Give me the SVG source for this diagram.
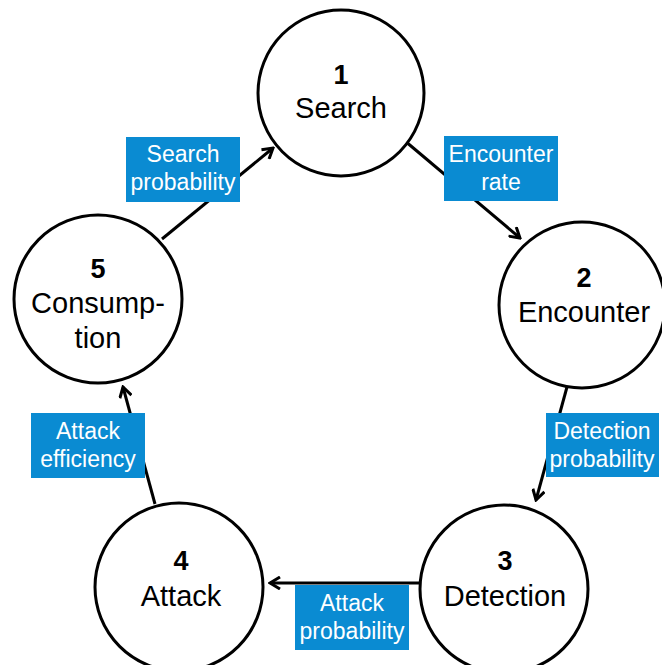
<svg xmlns="http://www.w3.org/2000/svg" width="662" height="665" viewBox="0 0 662 665">
<style>
.node circle{fill:#fff;stroke:#000;stroke-width:3}
.num{font-family:"Liberation Sans",Arial,sans-serif;font-size:27px;font-weight:bold;text-anchor:middle;fill:#000}
.nt{font-family:"Liberation Sans",Arial,sans-serif;font-size:29px;text-anchor:middle;fill:#000}
.edge line{stroke:#000;stroke-width:3;marker-end:url(#ah)}
.lbl rect{fill:#0a8bd2}
.lbl text{font-family:"Liberation Sans",Arial,sans-serif;font-size:23px;text-anchor:middle;fill:#fff}
</style>
<defs>
<marker id="ah" viewBox="0 0 14 14" refX="12" refY="7" markerWidth="14" markerHeight="14" markerUnits="userSpaceOnUse" orient="auto">
<path d="M2,1 L12,7 L2,13" fill="none" stroke="#000" stroke-width="3"/>
</marker>
</defs>
<rect width="662" height="665" fill="#fff"/>
<g id="connectors">
<g class="edge">
<line x1="405" y1="141" x2="520" y2="238"/>
<line x1="567" y1="387" x2="536" y2="500"/>
<line x1="421" y1="583" x2="270" y2="583"/>
<line x1="155" y1="504" x2="123" y2="387"/>
<line x1="162" y1="239" x2="273" y2="148"/>
</g>
</g>
<g id="n1" class="node"><circle cx="341" cy="93" r="83"/><text class="num" x="341" y="84">1</text><text class="nt" x="341" y="118">Search</text></g>
<g id="n2" class="node"><circle cx="582" cy="305" r="83"/><text class="num" x="584" y="287">2</text><text class="nt" x="584" y="322">Encounter</text></g>
<g id="n3" class="node"><circle cx="504" cy="589" r="84"/><text class="num" x="505" y="570">3</text><text class="nt" x="505" y="606">Detection</text></g>
<g id="n4" class="node"><circle cx="179" cy="587" r="84"/><text class="num" x="181" y="570">4</text><text class="nt" x="181" y="606">Attack</text></g>
<g id="n5" class="node"><circle cx="98" cy="299" r="84"/><text class="num" x="98" y="278">5</text><text class="nt" x="98" y="313">Consump-</text><text class="nt" x="98" y="348">tion</text></g>
<g id="l1" class="lbl"><rect x="444" y="136" width="114" height="65"/><text x="501" y="162">Encounter</text><text x="501" y="190">rate</text></g>
<g id="l2" class="lbl"><rect x="546" y="413" width="113" height="64"/><text x="602" y="439">Detection</text><text x="602" y="467">probability</text></g>
<g id="l3" class="lbl"><rect x="295" y="585" width="114" height="65"/><text x="352" y="611">Attack</text><text x="352" y="639">probability</text></g>
<g id="l4" class="lbl"><rect x="31" y="413" width="114" height="65"/><text x="88" y="439">Attack</text><text x="88" y="467">efficiency</text></g>
<g id="l5" class="lbl"><rect x="126" y="137" width="114" height="65"/><text x="183" y="162">Search</text><text x="183" y="190">probability</text></g>
</svg>
